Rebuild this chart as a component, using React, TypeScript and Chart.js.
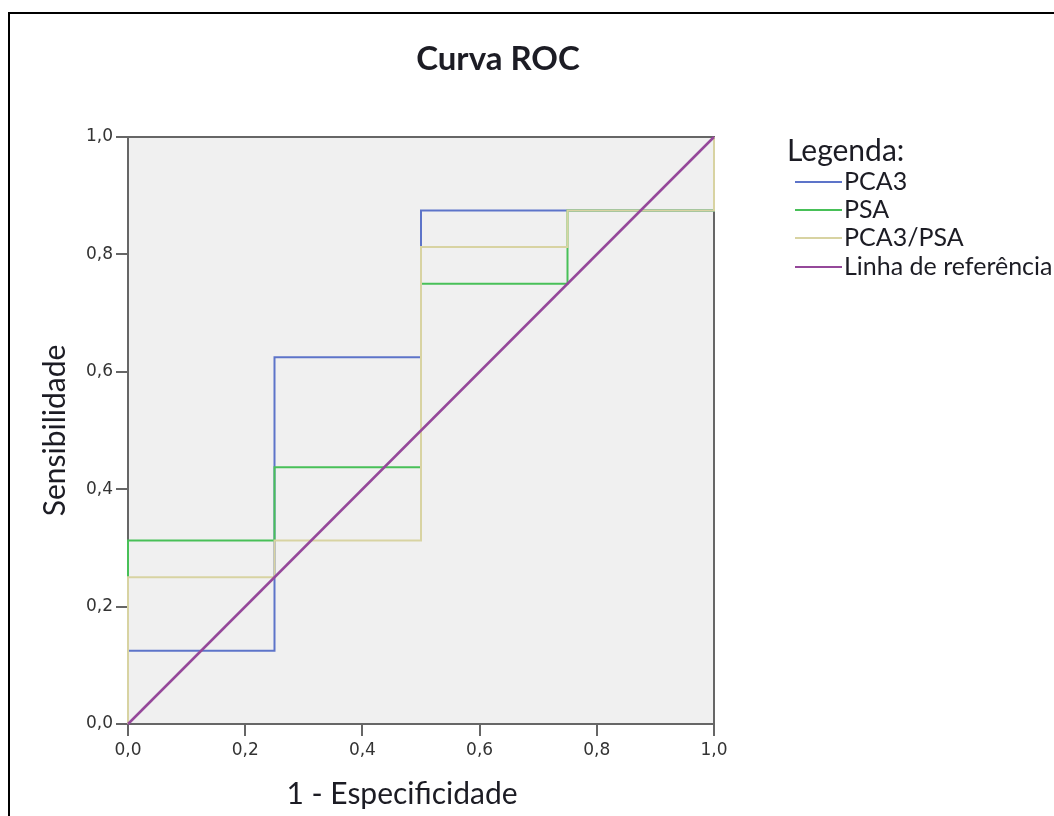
import React, { useEffect, useRef } from 'react';
import { Chart, registerables } from 'chart.js';

Chart.register(...registerables);

// ROC curve points (1 - especificidade, sensibilidade)
const pca3X = [0, 0, 0.25, 0.25, 0.5, 0.5, 0.75, 1, 1];
const pca3Y = [0, 0.125, 0.125, 0.625, 0.625, 0.875, 0.875, 0.875, 1];

const psaX = [0, 0, 0.25, 0.25, 0.5, 0.5, 0.75, 0.75, 1, 1];
const psaY = [0, 0.3125, 0.3125, 0.4375, 0.4375, 0.75, 0.75, 0.875, 0.875, 1];

const ratioX = [0, 0, 0.25, 0.25, 0.5, 0.5, 0.75, 0.75, 1, 1];
const ratioY = [0, 0.25, 0.25, 0.3125, 0.3125, 0.8125, 0.8125, 0.875, 0.875, 1];

const refX = [0, 1];
const refY = [0, 1];

const seriesNames = ['PCA3', 'PSA', 'PCA3/PSA', 'Linha de referência'];
const seriesColors = ['#5d74c9', '#48c058', '#d8d3a2', '#95489a'];

const tickValues = [0, 0.2, 0.4, 0.6, 0.8, 1.0];
const tickLabels = ['0,0', '0,2', '0,4', '0,6', '0,8', '1,0'];

const chartTitle = 'Curva ROC';
const xTitle = '1 - Especificidade';
const yTitle = 'Sensibilidade';
const legendTitle = 'Legenda:';

const AXIS = '#666666';
const TEXT = '#1c1c24';

const toPoints = (xs: number[], ys: number[]) => xs.map((x, i) => ({ x, y: ys[i] }));

const customPlugin = {
  id: 'custom',
  beforeDraw(chart: any) {
    const { ctx, chartArea: a } = chart;
    ctx.save();
    ctx.fillStyle = '#f0f0f0';
    ctx.fillRect(a.left, a.top, a.right - a.left, a.bottom - a.top);
    ctx.restore();
  },
  beforeDatasetsDraw(chart: any) {
    const { ctx, chartArea: a } = chart;
    ctx.save();
    ctx.strokeStyle = AXIS;
    ctx.lineWidth = 2;
    ctx.beginPath();
    ctx.moveTo(a.left - 12, a.top);
    ctx.lineTo(a.right, a.top);
    ctx.lineTo(a.right, a.bottom);
    ctx.stroke();
    ctx.restore();
  },
  afterDraw(chart: any) {
    const { ctx } = chart;
    ctx.save();
    ctx.fillStyle = TEXT;
    ctx.textBaseline = 'alphabetic';
    ctx.textAlign = 'center';
    ctx.font = 'bold 33px Lato';
    ctx.fillText(chartTitle, 498, 70);
    ctx.font = '30px Lato';
    ctx.fillText(xTitle, 402, 804);

    ctx.textAlign = 'left';
    ctx.font = '30px Lato';
    ctx.fillText(legendTitle, 787, 161);
    ctx.font = '25px Lato';
    const ys = [182, 210, 238, 267];
    seriesNames.forEach((name, i) => {
      ctx.strokeStyle = seriesColors[i];
      ctx.lineWidth = 2;
      ctx.beginPath();
      ctx.moveTo(795, ys[i]);
      ctx.lineTo(842, ys[i]);
      ctx.stroke();
      ctx.fillStyle = TEXT;
      ctx.fillText(name, 844, ys[i] + 8);
    });
    ctx.restore();
  },
};

export default function App() {
  const ref = useRef<HTMLCanvasElement | null>(null);

  useEffect(() => {
    if (!ref.current) return;
    const mk = (xs: number[], ys: number[], i: number, w: number) => ({
      label: seriesNames[i],
      data: toPoints(xs, ys),
      showLine: true,
      borderColor: seriesColors[i],
      backgroundColor: seriesColors[i],
      borderWidth: w,
      pointRadius: 0,
      tension: 0,
      clip: false as any,
      order: 4 - i,
      borderJoinStyle: 'miter' as const,
    });
    const axisCommon = (isX: boolean) => ({
      type: 'linear' as const,
      min: 0,
      max: 1,
      afterBuildTicks: (s: any) => {
        s.ticks = tickValues.map((v) => ({ value: v }));
      },
      afterFit: (s: any) => {
        if (isX) s.height = 92;
        else s.width = 128;
      },
      ticks: {
        callback: (_v: any, i: number) => tickLabels[i],
        font: { family: 'DejaVu Sans', size: 17 },
        color: '#333333',
        padding: isX ? 4 : 3,
        autoSkip: false,
        maxRotation: 0,
      },
      grid: {
        drawOnChartArea: false,
        drawTicks: true,
        tickLength: 12,
        color: AXIS,
        lineWidth: 2,
      },
      border: { display: true, color: AXIS, width: 2 },
    });
    const chart = new Chart(ref.current, {
      type: 'scatter',
      data: {
        datasets: [
          mk(pca3X, pca3Y, 0, 2),
          mk(psaX, psaY, 1, 2),
          mk(ratioX, ratioY, 2, 2),
          mk(refX, refY, 3, 2.5),
        ],
      },
      options: {
        responsive: false,
        animation: false,
        events: [],
        layout: { padding: { left: 0, top: 137, right: 340, bottom: 0 } },
        plugins: {
          legend: { display: false },
          title: { display: false },
          tooltip: { enabled: false },
        },
        scales: {
          x: { ...axisCommon(true) },
          y: {
            ...axisCommon(false),
            title: {
              display: true,
              text: yTitle,
              font: { family: 'Lato', size: 30 },
              color: TEXT,
              padding: { top: 37, bottom: 0 },
            },
          },
        },
      },
      plugins: [customPlugin],
    } as any);
    return () => chart.destroy();
  }, []);

  return (
    <div style={{ position: 'fixed', left: 0, top: 0, width: 1054, height: 816, overflow: 'hidden', background: '#fff' }}>
      <canvas ref={ref} width={1054} height={816} style={{ position: 'absolute', left: 0, top: 0 }} />
      <div
        style={{
          position: 'absolute',
          left: 8,
          top: 12,
          width: 1200,
          height: 1000,
          borderLeft: '2px solid #000',
          borderTop: '2px solid #000',
          pointerEvents: 'none',
        }}
      />
    </div>
  );
}
